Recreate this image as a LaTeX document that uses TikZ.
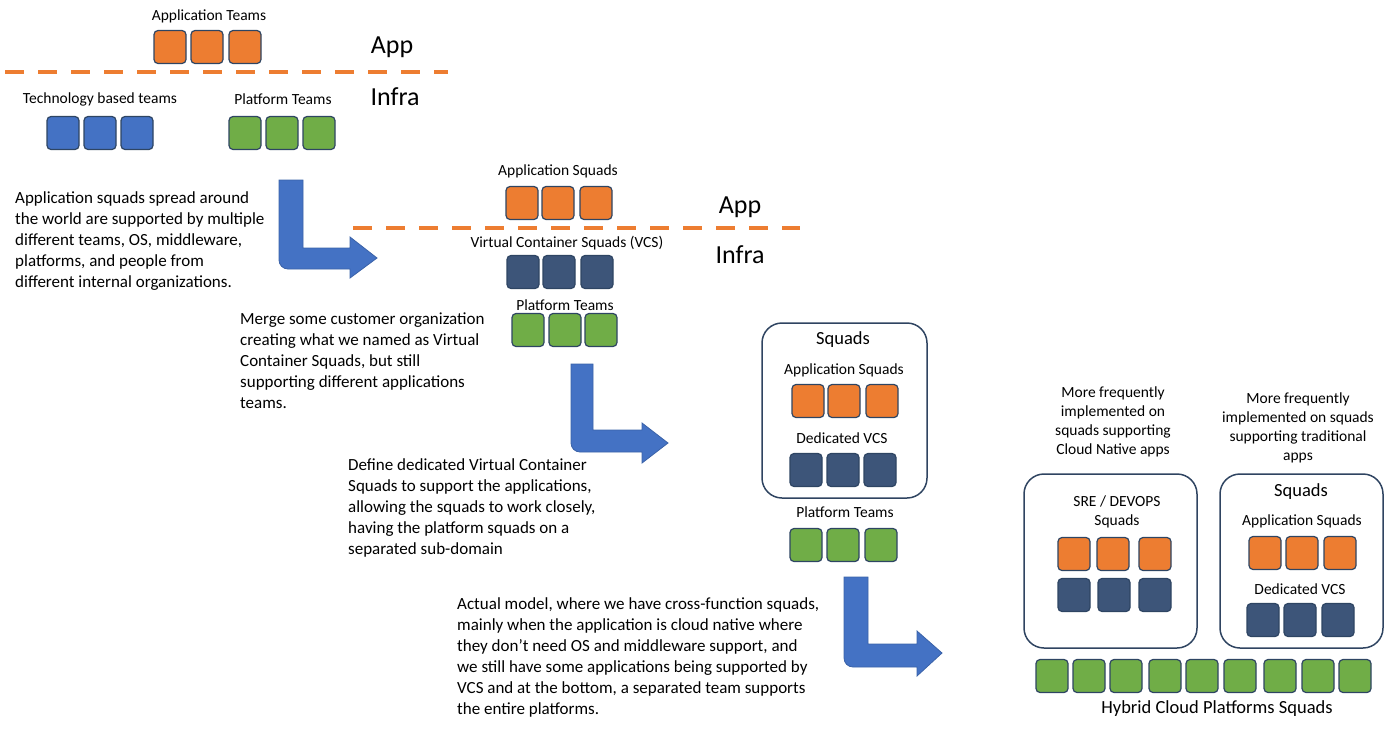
\documentclass[tikz,border=0pt]{standalone}
\usepackage{fontspec}
\setmainfont{Carlito}
\usepackage{tikz}

\definecolor{apporange}{HTML}{ED7D31}
\definecolor{techblue}{HTML}{4472C4}
\definecolor{platgreen}{HTML}{70AD47}
\definecolor{vcsblue}{HTML}{3D5579}
\definecolor{sqline}{HTML}{2E4563}
\definecolor{boxline}{HTML}{2F4461}
\definecolor{arrowline}{HTML}{3A62A8}

\begin{document}
\begin{tikzpicture}[x=1pt,y=-1pt,
	sq/.style={draw=sqline, line width=1.2pt, rounded corners=4pt, minimum width=32pt, minimum height=33pt, inner sep=0pt},
	appsq/.style={sq, fill=apporange},
	techsq/.style={sq, fill=techblue},
	platsq/.style={sq, fill=platgreen},
	vcssq/.style={sq, fill=vcsblue},
	lbl/.style={font=\fontsize{15.5}{19}\selectfont, inner sep=0pt, align=center},
	layer/.style={font=\fontsize{26}{30}\selectfont, inner sep=0pt},
	head/.style={font=\fontsize{18.5}{22}\selectfont, inner sep=0pt},
	note/.style={font=\fontsize{17}{21}\selectfont, align=left, anchor=north west, inner sep=0pt},
	split/.style={draw=apporange, line width=4.5pt, dash pattern=on 19pt off 14pt},
	bentarrow/.style={fill=techblue, draw=arrowline, line width=0.8pt},
	group/.style={draw=boxline, line width=1.5pt, rounded corners=20pt}]

	\useasboundingbox (0,0) rectangle (1400,732);

	% first model
	\node[lbl] (appteams) at (209,16) {Application Teams};
	\node[appsq] (at1) at (170,47) {};
	\node[appsq] (at2) at (207,47) {};
	\node[appsq] (at3) at (245,47) {};
	\node[layer] (app1) at (392,47) {App};
	\coordinate (s1) at (5,72);
	\coordinate (e1) at (448,72);
	\draw[split] (s1) -- (e1);
	\node[layer] (infra1) at (395,97) {Infra};
	\node[lbl] (techteams) at (100,99) {Technology based teams};
	\node[lbl] (platteams1) at (283,99) {Platform Teams};
	\node[techsq] (tt1) at (63,133) {};
	\node[techsq] (tt2) at (100,133) {};
	\node[techsq] (tt3) at (137,133) {};
	\node[platsq] (pt1) at (245,133) {};
	\node[platsq] (pt2) at (282,133) {};
	\node[platsq] (pt3) at (319,133) {};
	\node[note] (note1) at (15,191) {Application squads spread around\\the world are supported by multiple\\different teams, OS, middleware,\\platforms, and people from\\different internal organizations.};
	\draw[bentarrow] (279,180) -- (303,180) -- (303,248) -- (350,248) -- (350,237) -- (377,258) -- (350,278) -- (350,269) {[rounded corners=9pt] -- (279,269) -- (279,240)} -- cycle;

	% virtual container squads
	\node[lbl] (appsquads2) at (558,171) {Application Squads};
	\node[appsq] (as1) at (522,203) {};
	\node[appsq] (as2) at (558,203) {};
	\node[appsq] (as3) at (596,203) {};
	\node[layer] (app2) at (740,207) {App};
	\coordinate (s2) at (353,228);
	\coordinate (e2) at (800,228);
	\draw[split] (s2) -- (e2);
	\node[layer] (infra2) at (740,255) {Infra};
	\node[lbl] (vcs2) at (567,243) {Virtual Container Squads (VCS)};
	\node[vcssq] (vc1) at (523,272) {};
	\node[vcssq] (vc2) at (559,272) {};
	\node[vcssq] (vc3) at (597,272) {};
	\node[lbl] (platteams2) at (565,305) {Platform Teams};
	\node[platsq] (ps1) at (528,330) {};
	\node[platsq] (ps2) at (565,330) {};
	\node[platsq] (ps3) at (601,330) {};
	\node[note] (note2) at (240,313) {Merge some customer organization\\creating what we named as Virtual\\Container Squads, but still\\supporting different applications\\teams.};
	\draw[bentarrow] (571,364) -- (593,364) -- (593,430) -- (642,430) -- (642,423) -- (668,443) -- (642,463) -- (642,452) {[rounded corners=9pt] -- (571,452) -- (571,420)} -- cycle;

	% dedicated vcs
	\draw[group] (762,323) rectangle (927,498);
	\node[head] (squads3) at (843,340) {Squads};
	\node[lbl] (appsquads3) at (844,370) {Application Squads};
	\node[appsq] (da1) at (808,401) {};
	\node[appsq] (da2) at (844,401) {};
	\node[appsq] (da3) at (882,401) {};
	\node[lbl] (dvcs3) at (842,438) {Dedicated VCS};
	\node[vcssq] (dv1) at (806,470) {};
	\node[vcssq] (dv2) at (843,470) {};
	\node[vcssq] (dv3) at (880,470) {};
	\node[lbl] (platteams3) at (845,512) {Platform Teams};
	\node[platsq] (dp1) at (806,545) {};
	\node[platsq] (dp2) at (843,545) {};
	\node[platsq] (dp3) at (881,545) {};
	\node[note] (note3) at (348,458) {Define dedicated Virtual Container\\Squads to support the applications,\\allowing the squads to work closely,\\having the platform squads on a\\separated sub-domain};
	\draw[bentarrow] (844,577) -- (868,577) -- (868,644) -- (917,644) -- (917,631) -- (942,653) -- (917,676) -- (917,667) {[rounded corners=9pt] -- (844,667) -- (844,630)} -- cycle;

	% actual model
	\node[note] (note4) at (457,597) {Actual model, where we have cross-function squads,\\mainly when the application is cloud native where\\they don’t need OS and middleware support, and\\we still have some applications being supported by\\VCS and at the bottom, a separated team supports\\the entire platforms.};
	\node[lbl, anchor=north] (native) at (1113,387) {More frequently\\implemented on\\squads supporting\\Cloud Native apps};
	\node[lbl, anchor=north] (traditional) at (1298,393) {More frequently\\implemented on squads\\supporting traditional\\apps};
	\draw[group] (1024,474) rectangle (1197,648);
	\draw[group] (1220,474) rectangle (1383,648);
	\node[lbl] (sre) at (1117,512) {SRE / DEVOPS\\Squads};
	\node[appsq] (sa1) at (1074,554) {};
	\node[appsq] (sa2) at (1113,554) {};
	\node[appsq] (sa3) at (1155,554) {};
	\node[vcssq] (sv1) at (1074,595) {};
	\node[vcssq] (sv2) at (1114,595) {};
	\node[vcssq] (sv3) at (1155,595) {};
	\node[head] (squads4) at (1301,492) {Squads};
	\node[lbl] (appsquads4) at (1302,521) {Application Squads};
	\node[appsq] (ra1) at (1265,553) {};
	\node[appsq] (ra2) at (1302,553) {};
	\node[appsq] (ra3) at (1340,553) {};
	\node[lbl] (dvcs4) at (1300,589) {Dedicated VCS};
	\node[vcssq] (rv1) at (1263,620) {};
	\node[vcssq] (rv2) at (1300,620) {};
	\node[vcssq] (rv3) at (1338,620) {};
	\node[platsq] (hp1) at (1052,676) {};
	\node[platsq] (hp2) at (1089,676) {};
	\node[platsq] (hp3) at (1126,676) {};
	\node[platsq] (hp4) at (1165,676) {};
	\node[platsq] (hp5) at (1202,676) {};
	\node[platsq] (hp6) at (1240,676) {};
	\node[platsq] (hp7) at (1280,676) {};
	\node[platsq] (hp8) at (1318,676) {};
	\node[platsq] (hp9) at (1355,676) {};
	\node[head] (hybrid) at (1217,709) {Hybrid Cloud Platforms Squads};
\end{tikzpicture}
\end{document}
